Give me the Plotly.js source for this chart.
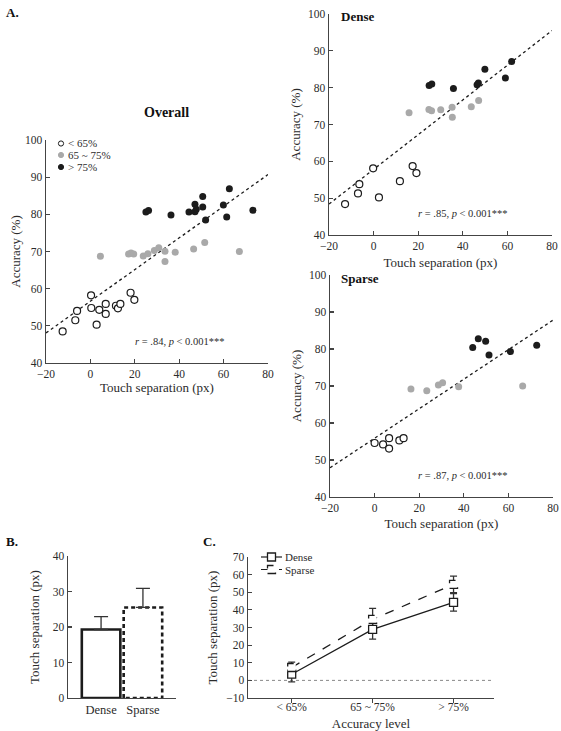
<!DOCTYPE html>
<html><head><meta charset="utf-8">
<script src="https://cdn.plot.ly/plotly-3.0.1.min.js"></script>
<style>html,body{margin:0;padding:0;background:#fff}#chart{width:561px;height:731px}</style>
</head><body><div id="chart"></div>
<script>
// ---------- data ----------
const overallLowX = [-12.5, -6.8, -6.0, 0.3, 0.4, 2.8, 4.0, 6.9, 6.9, 11.5, 12.4, 13.5, 18.1, 19.8];
const overallLowY = [48.5, 51.5, 54.0, 58.2, 54.8, 50.3, 54.3, 55.9, 53.2, 55.4, 54.7, 55.9, 58.9, 57.0];
const overallMidX = [4.5, 17.2, 18.3, 19.5, 23.8, 25.9, 28.8, 30.8, 33.6, 33.6, 38.2, 46.5, 51.5, 67.1];
const overallMidY = [68.7, 69.3, 69.6, 69.3, 68.8, 69.4, 70.3, 71.0, 70.1, 67.3, 69.8, 70.7, 72.4, 70.0];
const overallHighX = [25.0, 26.2, 36.3, 44.4, 47.1, 47.1, 47.7, 50.6, 50.6, 51.9, 59.9, 61.4, 62.6, 73.2];
const overallHighY = [80.6, 81.0, 79.8, 80.6, 82.7, 80.7, 81.4, 84.8, 82.0, 78.5, 82.5, 79.3, 86.9, 81.1];

const denseLowX = [-12.8, -7.0, -6.4, -0.2, 2.4, 11.8, 17.5, 19.2];
const denseLowY = [48.4, 51.3, 53.8, 58.1, 50.2, 54.6, 58.7, 56.8];
const denseMidX = [15.9, 24.8, 26.0, 30.1, 35.2, 35.3, 43.8, 47.1];
const denseMidY = [73.2, 74.1, 73.7, 74.0, 74.7, 72.0, 74.8, 76.5];
const denseHighX = [24.9, 26.1, 35.8, 46.4, 47.0, 49.9, 59.1, 61.9];
const denseHighY = [80.6, 81.0, 79.8, 80.8, 81.3, 85.0, 82.6, 87.1];

const sparseLowX = [0.0, 3.8, 6.5, 6.5, 11.1, 13.0];
const sparseLowY = [54.6, 54.2, 55.9, 53.1, 55.3, 55.9];
const sparseMidX = [16.3, 23.4, 28.6, 30.5, 37.7, 66.4];
const sparseMidY = [69.2, 68.7, 70.3, 70.9, 69.8, 70.0];
const sparseHighX = [44.0, 46.5, 49.8, 51.3, 60.9, 72.7];
const sparseHighY = [80.4, 82.8, 82.1, 78.4, 79.3, 81.0];

const fitX = [-20, 80];
const overallFitY = [48.1, 90.7];
const denseFitY = [48.4, 95.5];
const sparseFitY = [47.9, 87.8];

const barCats = ['Dense', 'Sparse'];
const barVals = [19.3, 25.5];
const barErr = [3.6, 5.4];

const levels = ['&lt; 65%', '65 ~ 75%', '&gt; 75%'];
const denseMean = [3.5, 28.9, 44.3];
const denseSE = [4.4, 5.5, 5.0];
const sparseMean = [7.3, 34.6, 54.5];
const sparseSE = [3.0, 6.3, 4.7];

const legendLabels = ['&lt; 65%', '65 ~ 75%', '&gt; 75%'];

// ---------- helpers ----------
const W = 561, H = 731;
const X = p => p / W;
const Y = p => 1 - p / H;
const FONT = 'Liberation Serif, Times New Roman, serif';
const TXT = '#2b2b2b';
const AX = '#444';
const GRAY = '#a9a9a9';
const BLACK = '#1c1c1c';

function axisBase(extra) {
  return Object.assign({
    showline: true, linecolor: AX, linewidth: 1.4, ticks: 'inside', ticklen: 4,
    tickcolor: AX, tickwidth: 1.2, showgrid: false, zeroline: false, automargin: false,
    tickfont: {family: FONT, size: 11.5, color: TXT}, fixedrange: true
  }, extra);
}
function atitle(t, standoff) {
  return {text: t, font: {family: FONT, size: 13, color: TXT}, standoff: standoff};
}

const traces = [];
function scatterSet(xa, ya, lx, ly, mx, my, hx, hy, fy) {
  traces.push({x: fitX, y: fy, xaxis: xa, yaxis: ya, mode: 'lines',
    line: {color: BLACK, width: 1.3, dash: 'dot'}, showlegend: false, hoverinfo: 'skip'});
  traces.push({x: mx, y: my, xaxis: xa, yaxis: ya, mode: 'markers',
    marker: {size: 7, color: GRAY}, showlegend: false});
  traces.push({x: hx, y: hy, xaxis: xa, yaxis: ya, mode: 'markers',
    marker: {size: 7, color: BLACK}, showlegend: false});
  traces.push({x: lx, y: ly, xaxis: xa, yaxis: ya, mode: 'markers',
    marker: {size: 7, color: 'white', line: {color: BLACK, width: 1.2}}, showlegend: false});
}
scatterSet('x', 'y', overallLowX, overallLowY, overallMidX, overallMidY, overallHighX, overallHighY, overallFitY);
scatterSet('x2', 'y2', denseLowX, denseLowY, denseMidX, denseMidY, denseHighX, denseHighY, denseFitY);
scatterSet('x3', 'y3', sparseLowX, sparseLowY, sparseMidX, sparseMidY, sparseHighX, sparseHighY, sparseFitY);

// ---------- panel B: bars as outlines ----------
const bw = 0.92;
barCats.forEach((c, i) => {
  const v = barVals[i];
  traces.push({x: [i - bw / 2, i - bw / 2, i + bw / 2, i + bw / 2, i - bw / 2],
    y: [0, v, v, 0, 0], xaxis: 'x4', yaxis: 'y4', mode: 'lines', fill: 'toself', fillcolor: 'white',
    line: {color: BLACK, width: 2.6, dash: i === 0 ? 'solid' : '4px,3px'}, showlegend: false, hoverinfo: 'skip'});
});
traces.push({x: barCats.map((c, i) => i), y: barVals, xaxis: 'x4', yaxis: 'y4', mode: 'markers',
  marker: {size: 1, color: 'rgba(0,0,0,0)'}, showlegend: false,
  error_y: {type: 'data', symmetric: false, array: barErr, arrayminus: barErr.map(() => 0),
    color: '#333', thickness: 1.3, width: 7}});

// ---------- panel C ----------
const lvIdx = levels.map((l, i) => i);
traces.push({x: lvIdx, y: sparseMean, xaxis: 'x5', yaxis: 'y5', mode: 'lines',
  line: {color: BLACK, width: 1.3, dash: 'dash'}, showlegend: false,
  error_y: {type: 'data', array: sparseSE, color: '#333', thickness: 1.3, width: 3.5}});
traces.push({x: lvIdx, y: denseMean, xaxis: 'x5', yaxis: 'y5', mode: 'lines+markers',
  line: {color: BLACK, width: 1.3},
  marker: {symbol: 'square', size: 8, color: 'white', line: {color: BLACK, width: 1.3}}, showlegend: false,
  error_y: {type: 'data', array: denseSE, color: '#333', thickness: 1.3, width: 3.5}});

// ---------- shapes ----------
const shapes = [];
shapes.push({type: 'line', xref: 'x5 domain', yref: 'y5', x0: 0, x1: 1, y0: 0, y1: 0,
  line: {color: '#888', width: 1, dash: 'dot'}, layer: 'below'});
sparseMean.forEach((v, i) => {
  shapes.push({type: 'rect', xref: 'x5', yref: 'y5', xsizemode: 'pixel', ysizemode: 'pixel',
    xanchor: i, yanchor: v, x0: -4, x1: 4, y0: -4, y1: 4, fillcolor: 'white',
    line: {color: BLACK, width: 1.3, dash: 'dash'}, layer: 'above'});
});
const legRowsY = [143.5, 155, 167];
const legStyles = [{fill: 'white', line: BLACK}, {fill: GRAY, line: GRAY}, {fill: BLACK, line: BLACK}];
legRowsY.forEach((py, i) => {
  shapes.push({type: 'circle', xref: 'paper', yref: 'paper', xsizemode: 'pixel', ysizemode: 'pixel',
    xanchor: X(61), yanchor: Y(py), x0: -2.6, x1: 2.6, y0: -2.6, y1: 2.6,
    fillcolor: legStyles[i].fill, line: {color: legStyles[i].line, width: 1}});
});
const cLegY = [557, 569.5];
shapes.push({type: 'line', xref: 'paper', yref: 'paper', x0: X(261), x1: X(282), y0: Y(cLegY[0]), y1: Y(cLegY[0]),
  line: {color: BLACK, width: 1.2}});
shapes.push({type: 'rect', xref: 'paper', yref: 'paper', xsizemode: 'pixel', ysizemode: 'pixel',
  xanchor: X(271.5), yanchor: Y(cLegY[0]), x0: -4, x1: 4, y0: -4, y1: 4, fillcolor: 'white',
  line: {color: BLACK, width: 1.3}});
shapes.push({type: 'line', xref: 'paper', yref: 'paper', x0: X(261), x1: X(282), y0: Y(cLegY[1]), y1: Y(cLegY[1]),
  line: {color: BLACK, width: 1.2, dash: 'dash'}});
shapes.push({type: 'rect', xref: 'paper', yref: 'paper', xsizemode: 'pixel', ysizemode: 'pixel',
  xanchor: X(271.5), yanchor: Y(cLegY[1]), x0: -4, x1: 4, y0: -4, y1: 4, fillcolor: 'white',
  line: {color: BLACK, width: 1.3, dash: 'dash'}});

// ---------- annotations ----------
function ann(text, px, py, opts) {
  return Object.assign({text: text, xref: 'paper', yref: 'paper', x: X(px), y: Y(py),
    xanchor: 'left', yanchor: 'middle', showarrow: false,
    font: {family: FONT, size: 11, color: TXT}}, opts || {});
}
const annotations = [
  ann('<b>A.</b>', 4, 12, {font: {family: FONT, size: 13, color: '#111'}}),
  ann('<b>B.</b>', 4, 541, {font: {family: FONT, size: 13, color: '#111'}}),
  ann('<b>C.</b>', 201, 541, {font: {family: FONT, size: 13, color: '#111'}}),
  ann('<b>Overall</b>', 166, 112, {xanchor: 'center', font: {family: FONT, size: 14, color: '#111'}}),
  ann('<b>Dense</b>', 339, 16, {font: {family: FONT, size: 13, color: '#111'}}),
  ann('<b>Sparse</b>', 339, 278, {font: {family: FONT, size: 13, color: '#111'}}),
  ann('<i>r</i> = .84, <i>p</i> &lt; 0.001***', 133, 341, {font: {family: FONT, size: 10.5, color: TXT}}),
  ann('<i>r</i> = .85, <i>p</i> &lt; 0.001***', 416, 213, {font: {family: FONT, size: 10.5, color: TXT}}),
  ann('<i>r</i> = .87, <i>p</i> &lt; 0.001***', 416, 475, {font: {family: FONT, size: 10.5, color: TXT}}),
  ann('Dense', 283, 557, {font: {family: FONT, size: 11, color: TXT}}),
  ann('Sparse', 283, 569.5, {font: {family: FONT, size: 11, color: TXT}})
];
legendLabels.forEach((t, i) => annotations.push(ann(t, 66, legRowsY[i], {font: {family: FONT, size: 11, color: TXT}})));

// ---------- layout ----------
const scatX = {range: [-20, 80], tickvals: [-20, 0, 20, 40, 60, 80]};
const scatY = {range: [40, 100], tickvals: [40, 50, 60, 70, 80, 90, 100]};
const layout = {
  width: W, height: H, margin: {l: 0, r: 0, t: 0, b: 0}, paper_bgcolor: 'white', plot_bgcolor: 'rgba(0,0,0,0)',
  showlegend: false, shapes: shapes, annotations: annotations,
  xaxis: axisBase(Object.assign({domain: [X(46), X(268)], anchor: 'y', title: atitle('Touch separation (px)', 3)}, scatX)),
  yaxis: axisBase(Object.assign({domain: [Y(363), Y(140)], anchor: 'x', title: atitle('Accuracy (%)', 1)}, scatY)),
  xaxis2: axisBase(Object.assign({domain: [X(329), X(552)], anchor: 'y2', title: atitle('Touch separation (px)', 6)}, scatX)),
  yaxis2: axisBase(Object.assign({domain: [Y(235), Y(14)], anchor: 'x2', title: atitle('Accuracy (%)', 4)}, scatY)),
  xaxis3: axisBase(Object.assign({domain: [X(330), X(553)], anchor: 'y3', title: atitle('Touch separation (px)', 5)}, scatX)),
  yaxis3: axisBase(Object.assign({domain: [Y(497), Y(275)], anchor: 'x3', title: atitle('Accuracy (%)', 4)}, scatY)),
  xaxis4: axisBase({domain: [X(68), X(176)], anchor: 'y4', range: [-0.79, 1.79], ticks: '',
    tickvals: [0, 1], ticktext: barCats, tickfont: {family: FONT, size: 12.5, color: TXT}}),
  yaxis4: axisBase({domain: [Y(698), Y(556)], anchor: 'x4', range: [0, 40], tickvals: [0, 10, 20, 30, 40],
    title: atitle('Touch separation (px)', 10)}),
  xaxis5: axisBase({domain: [X(248), X(494)], anchor: 'y5', range: [-0.54, 2.5], ticks: 'outside', ticklen: 4,
    tickvals: lvIdx, ticktext: levels, tickfont: {family: FONT, size: 11.5, color: TXT}, ticklabelstandoff: -6,
    title: atitle('Accuracy level', 9)}),
  yaxis5: axisBase({domain: [Y(698), Y(557)], anchor: 'x5', range: [-10, 70],
    tickvals: [-10, 0, 10, 20, 30, 40, 50, 60, 70], title: atitle('Touch separation (px)', 5)})
};

Plotly.newPlot('chart', traces, layout, {staticPlot: true, displayModeBar: false});
</script></body></html>
